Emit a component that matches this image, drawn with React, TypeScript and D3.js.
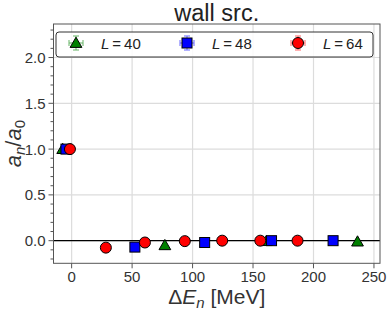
import * as d3 from 'd3';

const xTicks = [0, 50, 100, 150, 200, 250];
const yTicks = [0.0, 0.5, 1.0, 1.5, 2.0];

const series = [
  {
    label: '40',
    shape: 'triangle',
    color: 'green',
    x: [-7.4, 77.1, 161, 236.4],
    y: [1.0, -0.05, -0.005, -0.01],
    err: [0.01, 0.01, 0.01, 0.01],
  },
  {
    label: '48',
    shape: 'square',
    color: 'blue',
    x: [-4.7, 52.3, 110, 165.3, 216.2],
    y: [1.0, -0.07, -0.02, 0.0, 0.0],
    err: [0.01, 0.01, 0.01, 0.01, 0.01],
  },
  {
    label: '64',
    shape: 'circle',
    color: 'red',
    x: [-1.4, 28.3, 60.6, 93.6, 124.5, 156, 186.8],
    y: [1.0, -0.076, -0.02, -0.005, 0.0, 0.0, 0.0],
    err: [0.01, 0.01, 0.01, 0.01, 0.01, 0.01, 0.01],
  },
];

const W = 390;
const H = 311;
const left = 53.5;
const right = 380;
const top = 24;
const bottom = 263.3;

const font = 'Liberation Sans, Arial, sans-serif';

const Marker = ({ shape, color, cx, cy }) => {
  if (shape === 'circle')
    return <circle cx={cx} cy={cy} r={5.5} fill={color} stroke="black" strokeWidth={1} />;
  if (shape === 'square')
    return <rect x={cx - 5} y={cy - 5} width={10} height={10} fill={color} stroke="black" strokeWidth={1} />;
  const sym = d3.symbol(d3.symbolTriangle, 60)();
  return <path d={sym} transform={`translate(${cx},${cy + 1})`} fill={color} stroke="black" strokeWidth={1} />;
};

const App = () => {
  const x = d3.scaleLinear().domain([-15, 255]).range([left, right]);
  const y = d3.scaleLinear().domain([-0.247, 2.366]).range([bottom, top]);
  const minor = d3.range(-0.2, 2.36, 0.1).filter((v) => Math.abs(v * 2 - Math.round(v * 2)) > 0.01);

  const legendX = [76, 187, 298];
  const legendY = 43;

  return (
    <svg width={W} height={H} style={{ position: 'absolute', left: 0, top: 0 }}>
      <rect width={W} height={H} fill="white" />
      {/* grid */}
      {xTicks.map((t) => (
        <line key={'gx' + t} x1={x(t)} x2={x(t)} y1={top} y2={bottom} stroke="#dcdcdc" strokeWidth={1.2} />
      ))}
      {yTicks.map((t) => (
        <line key={'gy' + t} x1={left} x2={right} y1={y(t)} y2={y(t)} stroke="#dcdcdc" strokeWidth={1.2} />
      ))}
      {/* zero line */}
      <line x1={left} x2={right} y1={y(0)} y2={y(0)} stroke="black" strokeWidth={1.2} />
      {/* frame */}
      <rect x={left} y={top} width={right - left} height={bottom - top} fill="none" stroke="#555" strokeWidth={1} />
      {/* ticks */}
      {xTicks.map((t) => (
        <g key={'tx' + t}>
          <line x1={x(t)} x2={x(t)} y1={bottom} y2={bottom + 5} stroke="#555" />
          <text x={x(t)} y={bottom + 18.5} textAnchor="middle" fontSize={15} fill="#333" fontFamily={font}>
            {t}
          </text>
        </g>
      ))}
      {yTicks.map((t) => (
        <g key={'ty' + t}>
          <line x1={left - 5} x2={left} y1={y(t)} y2={y(t)} stroke="#555" />
          <text x={left - 8} y={y(t) + 5.5} textAnchor="end" fontSize={15} fill="#333" fontFamily={font}>
            {t.toFixed(1)}
          </text>
        </g>
      ))}
      {minor.map((t) => (
        <line key={'my' + t} x1={left - 3} x2={left} y1={y(t)} y2={y(t)} stroke="#555" />
      ))}
      {/* data */}
      {series.map((s) =>
        s.x.map((v, i) => (
          <g key={s.label + i}>
            <line x1={x(v)} x2={x(v)} y1={y(s.y[i] - s.err[i])} y2={y(s.y[i] + s.err[i])} stroke={s.color} opacity={0.6} />
            <Marker shape={s.shape} color={s.color} cx={x(v)} cy={y(s.y[i])} />
          </g>
        ))
      )}
      {/* legend */}
      <rect x={56} y={32} width={317} height={25} rx={3} fill="white" fillOpacity={0.85} stroke="#333" strokeWidth={1} />
      {series.map((s, i) => (
        <g key={'lg' + s.label}>
          <g stroke={s.color} opacity={0.6} strokeWidth={1}>
            <line x1={legendX[i] - 7} x2={legendX[i] + 7} y1={legendY} y2={legendY} />
            <line x1={legendX[i] - 7} x2={legendX[i] - 7} y1={legendY - 3} y2={legendY + 3} />
            <line x1={legendX[i] + 7} x2={legendX[i] + 7} y1={legendY - 3} y2={legendY + 3} />
            <line x1={legendX[i]} x2={legendX[i]} y1={legendY - 7} y2={legendY + 7} />
            <line x1={legendX[i] - 3} x2={legendX[i] + 3} y1={legendY - 7} y2={legendY - 7} />
            <line x1={legendX[i] - 3} x2={legendX[i] + 3} y1={legendY + 7} y2={legendY + 7} />
          </g>
          <Marker shape={s.shape} color={s.color} cx={legendX[i]} cy={legendY} />
          <text x={legendX[i] + 25} y={legendY + 5.5} fontSize={15} fill="#222" fontFamily={font}>
            <tspan fontStyle="italic">L</tspan>
            <tspan dx={3}>=</tspan>
            <tspan dx={3}>{s.label}</tspan>
          </text>
        </g>
      ))}
      {/* title */}
      <text x={(left + right) / 2} y={21} textAnchor="middle" fontSize={23.5} fill="#222" fontFamily={font}>
        wall src.
      </text>
      {/* axis labels */}
      <text x={(left + right) / 2} y={303.5} textAnchor="middle" fontSize={21} fill="#333" fontFamily={font}>
        Δ<tspan fontStyle="italic">E</tspan>
        <tspan fontSize={15} dy={4} fontStyle="italic">n</tspan>
        <tspan dy={-4}> [MeV]</tspan>
      </text>
      <text
        transform={`translate(21, ${(top + bottom) / 2}) rotate(-90)`}
        textAnchor="middle"
        fontSize={22}
        fill="#333"
        fontFamily={font}
      >
        <tspan fontStyle="italic">a</tspan>
        <tspan fontSize={15} dy={4} fontStyle="italic">n</tspan>
        <tspan dy={-4}>/</tspan>
        <tspan fontStyle="italic">a</tspan>
        <tspan fontSize={15} dy={4}>0</tspan>
      </text>
    </svg>
  );
};

export default App;
